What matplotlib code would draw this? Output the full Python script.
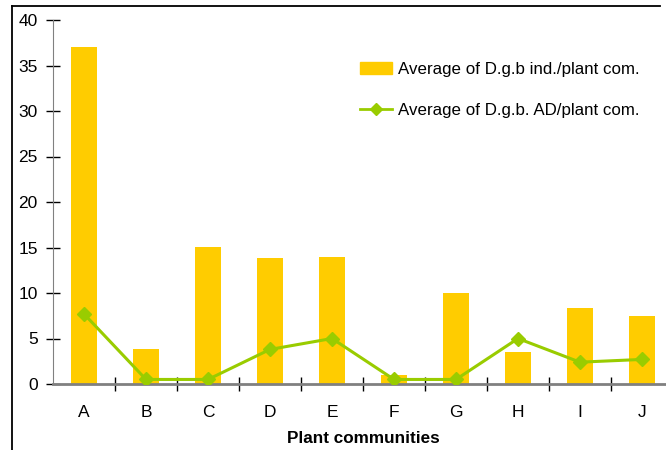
import matplotlib
matplotlib.use("Agg")
import matplotlib.pyplot as plt
from matplotlib.lines import Line2D
import numpy as np

categories = ["A", "B", "C", "D", "E", "F", "G", "H", "I", "J"]
ind_values = [37.0, 3.9, 15.1, 13.8, 14.0, 1.0, 10.0, 3.5, 8.3, 7.5]
ad_values = [7.7, 0.5, 0.5, 3.8, 5.0, 0.5, 0.5, 5.0, 2.4, 2.7]
y_ticks = [0, 5, 10, 15, 20, 25, 30, 35, 40]
label_ind = "Average of D.g.b ind./plant com."
label_ad = "Average of D.g.b. AD/plant com."

plt.rcParams['font.family'] = ['Liberation Sans', 'DejaVu Sans']

fig = plt.figure(figsize=(6.66, 4.5), dpi=100)
W, H = 666, 450
ax = fig.add_axes([53 / W, 1 - 384 / H, 620 / W, 364 / H])

x = np.arange(len(categories))
bar_col = "#FFCC00"
line_col = "#99CC00"
ax.bar(x, ind_values, width=0.42, color=bar_col, zorder=2)
ax.plot(x, ad_values, color=line_col, lw=2.2, marker="D", markersize=7.5, zorder=3)

ax.set_xlim(-0.5, len(categories) - 0.5)
ax.set_ylim(0, 40)
ax.set_yticks(y_ticks)
ax.set_yticklabels([str(t) for t in y_ticks], fontsize=12.5)
ax.set_xticks(x)
ax.set_xticklabels(categories, fontsize=12.5)
ax.set_xticks(np.arange(len(categories)) + 0.5, minor=True)
ax.tick_params(axis='x', which='major', length=0, pad=15)
ax.tick_params(axis='x', which='minor', direction='inout', length=10, width=1, color='black')
ax.tick_params(axis='y', direction='inout', length=10, width=1, color='black', pad=6)

for s in ["top", "right"]:
    ax.spines[s].set_visible(False)
ax.spines["left"].set_color("#808080")
ax.spines["bottom"].set_color("#808080")
ax.spines["bottom"].set_linewidth(2)

ax.set_xlabel("Plant communities", fontsize=12.3, fontweight="bold", labelpad=8)

handles = [
    plt.Rectangle((0, 0), 1, 1, color=bar_col),
    Line2D([], [], color=line_col, lw=2, marker="D", markersize=6.5),
]
fig.legend(handles, [label_ind, label_ad], loc="upper left",
           bbox_to_anchor=(345 / W, 1 - 47 / H), frameon=False,
           fontsize=12.2, handlelength=1.9, handleheight=0.7,
           labelspacing=1.5, handletextpad=0.3, borderpad=0.4)

# outer frame (cropped on right/bottom)
fig.add_artist(Line2D([12 / W, 12 / W], [0, 1 - 6 / H], transform=fig.transFigure,
                      color="black", lw=1.3))
fig.add_artist(Line2D([12 / W, 660 / W], [1 - 6 / H, 1 - 6 / H], transform=fig.transFigure,
                      color="black", lw=1.3))

fig.savefig("out.png", dpi=100)
